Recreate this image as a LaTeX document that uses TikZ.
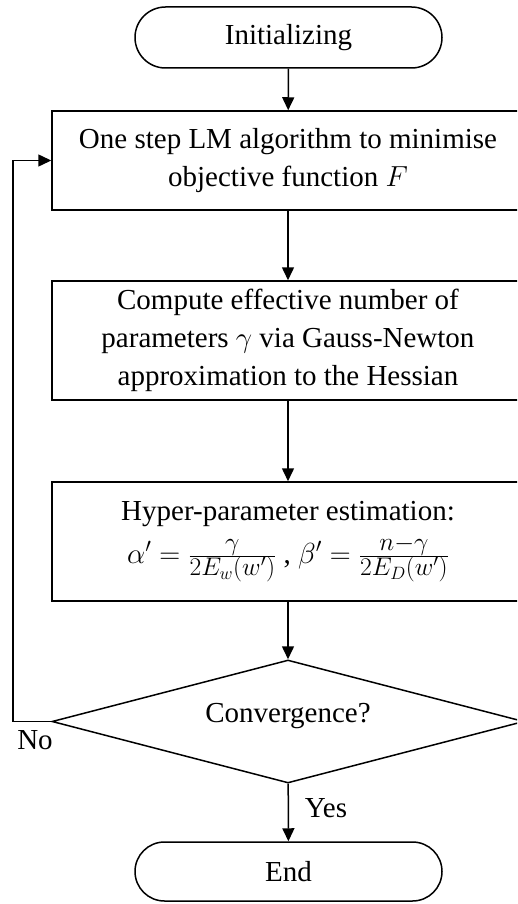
\documentclass[tikz,border=0pt]{standalone}
\usepackage{fix-cm}
\usepackage{fontspec}
\setmainfont{Liberation Serif}
\usetikzlibrary{shapes.misc,shapes.geometric,arrows.meta}
\newcommand\fracpart[1]{\mbox{\fontsize{25.5}{25.5}\selectfont$#1$}}
\newcommand\bigfr[2]{\frac{\fracpart{#1}}{\fracpart{#2}}}
\tikzset{
  base/.style={draw, line width=1.5pt, align=center, font=\fontsize{29}{38}\selectfont, inner sep=0pt},
  term/.style={base, rounded rectangle, minimum width=307pt, minimum height=61pt},
  procbox/.style={base, rectangle, minimum width=472pt},
  decide/.style={base, diamond, minimum width=472pt, minimum height=123pt},
  lbl/.style={font=\fontsize{29}{38}\selectfont, inner sep=0pt},
  conn/.style={-{Triangle[length=13pt,width=12pt]}, line width=1.5pt}
}
\begin{document}
\begin{tikzpicture}
\useasboundingbox (0,0) rectangle (517pt,-904pt);
\clip (0,0) rectangle (517pt,-904pt);
\node[term] (init) at (288.5pt,-37.5pt) {Initializing};
\node[procbox, minimum height=99pt] (lm) at (288pt,-160.5pt) {One step LM algorithm to minimise\\objective function $F$};
\node[procbox, minimum height=119pt] (gamma) at (288pt,-340.5pt) {Compute effective number of\\parameters $\gamma$ via Gauss-Newton\\approximation to the Hessian};
\node[procbox, minimum height=119pt] (hyper) at (288pt,-541.5pt) {Hyper-parameter estimation:\\[5pt]$\alpha' = \bigfr{\gamma}{2E_w(w')}$\ ,\ $\beta' = \bigfr{n{-}\gamma}{2E_D(w')}$};
\node[decide] (conv) at (288pt,-721.5pt) {};
\node[lbl] (convt) at (288pt,-716pt) {Convergence?};
\node[term, minimum height=59pt] (end) at (288.5pt,-871.5pt) {End};
\coordinate (back) at (13pt,-721.5pt);
\node[lbl] (no) at (35pt,-740pt) {No};
\node[lbl] (yes) at (326pt,-808pt) {Yes};
\draw[conn] (init) -- (lm);
\draw[conn] (lm) -- (gamma);
\draw[conn] (gamma) -- (hyper);
\draw[conn] (hyper) -- (conv);
\draw[conn] (conv) -- (end);
\draw[conn] (conv.west) -- (back) |- (lm.west);
\end{tikzpicture}
\end{document}
